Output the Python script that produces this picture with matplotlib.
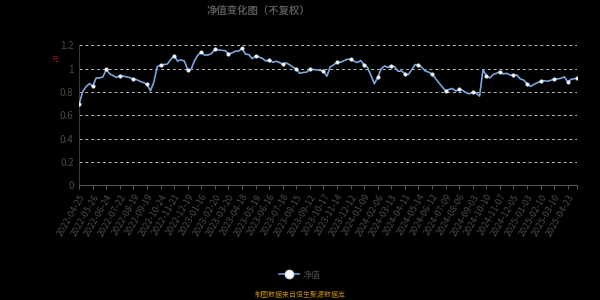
import numpy as np
import matplotlib
matplotlib.use('Agg')
from matplotlib import pyplot as plt
from matplotlib.lines import Line2D

plt.rcParams['font.family'] = ['Noto Sans CJK SC', 'DejaVu Sans']

# trading-day index of each sample (every 5 days, last point is the final day)
day_idx = list(range(0, 731, 5)) + [733]
nav = [
    0.70, 0.80, 0.845, 0.872, 0.85, 0.92, 0.92, 0.93, 0.994, 0.955,
    0.94, 0.925, 0.94, 0.935, 0.93, 0.922, 0.91, 0.905, 0.89, 0.88,
    0.866, 0.81, 0.885, 1.017, 1.03, 1.035, 1.04, 1.08, 1.11, 1.065,
    1.075, 1.065, 0.99, 0.994, 1.07, 1.117, 1.14, 1.115, 1.117, 1.13,
    1.166, 1.16, 1.157, 1.154, 1.126, 1.134, 1.15, 1.15, 1.175, 1.125,
    1.12, 1.085, 1.111, 1.10, 1.088, 1.065, 1.074, 1.055, 1.063, 1.053,
    1.037, 1.05, 1.033, 1.013, 0.997, 0.96, 0.967, 0.97, 0.994, 0.993,
    0.989, 0.985, 0.98, 0.935, 1.015, 1.033, 1.054, 1.055, 1.067, 1.08,
    1.08, 1.063, 1.053, 1.07, 1.031, 1.01, 0.94, 0.87, 0.926, 0.998,
    1.023, 1.01, 1.026, 1.015, 0.977, 0.98, 0.955, 0.95, 0.99, 1.035,
    1.031, 1.01, 0.98, 0.97, 0.954, 0.915, 0.88, 0.845, 0.809, 0.822,
    0.83, 0.808, 0.823, 0.813, 0.795, 0.784, 0.797, 0.79, 0.765, 0.99,
    0.94, 0.92, 0.95, 0.96, 0.975, 0.955, 0.96, 0.945, 0.943, 0.945,
    0.912, 0.902, 0.87, 0.848, 0.865, 0.879, 0.891, 0.897, 0.892, 0.90,
    0.911, 0.912, 0.917, 0.93, 0.885, 0.909, 0.914, 0.917,
]
tick_labels = [
    "2022-04-25", "2022-05-26", "2022-06-24", "2022-07-22", "2022-08-19",
    "2022-09-19", "2022-10-24", "2022-11-21", "2022-12-19", "2023-01-16",
    "2023-02-20", "2023-03-20", "2023-04-18", "2023-05-19", "2023-06-16",
    "2023-07-18", "2023-08-15", "2023-09-12", "2023-10-17", "2023-11-14",
    "2023-12-12", "2024-01-09", "2024-02-06", "2024-03-13", "2024-04-11",
    "2024-05-14", "2024-06-12", "2024-07-09", "2024-08-06", "2024-09-03",
    "2024-10-10", "2024-11-07", "2024-12-05", "2025-01-03", "2025-02-10",
    "2025-03-10", "2025-04-23",
]
y_ticks = [0, 0.2, 0.4, 0.6, 0.8, 1, 1.2]

line_color = "#7aa6dc"
text_color = "#4a4a4a"
axis_color = "#3a3a3a"

fig = plt.figure(figsize=(6, 3), dpi=100, facecolor="black")
ax = fig.add_axes([0.132, 0.382, 0.829, 0.467], facecolor="black")

x = np.array(day_idx)
y = np.array(nav)
ax.plot(x, y, color=line_color, lw=1.2, zorder=3)
mark = [i for i, d in enumerate(day_idx) if d % 20 == 0 and d <= 720] + [len(day_idx) - 1]
ax.plot(x[mark], y[mark], ls="none", marker="o", ms=2.4, mfc="white",
        mec="#dfe9f7", mew=0.5, zorder=4)

ax.set_xlim(0, 733)
ax.set_ylim(0, 1.2)
ax.set_yticks(y_ticks)
ax.set_yticklabels([f"{v:g}" for v in y_ticks])
ax.set_xticks(list(range(0, 721, 20)) + [733])
ax.set_xticklabels(tick_labels + [""], rotation=60, ha="right",
                   rotation_mode="anchor", fontsize=6.5, color=text_color)
for v in y_ticks[1:]:
    ax.axhline(v, color="#bdbdbd", lw=0.7, ls=(0, (3, 3)), zorder=1)

for s in ["top", "right"]:
    ax.spines[s].set_visible(False)
ax.spines["left"].set_color(axis_color)
ax.spines["bottom"].set_color("#555555")
ax.tick_params(axis="y", length=0, labelsize=7, labelcolor=text_color, pad=4)
ax.tick_params(axis="x", length=3, color="#555555", pad=2)

fig.text(0.43, 0.965, "净值变化图（不复权）", ha="center", va="center",
         fontsize=7.5, fontweight="bold", color="#555555")
fig.text(0.092, 0.80, "元", ha="center", va="center", fontsize=5, color="#a01010")

h = Line2D([], [], color=line_color, lw=1.1, marker="o", ms=6,
           mfc="white", mec="#cfe0f7", mew=1)
fig.legend([h], ["净值"], loc="center", bbox_to_anchor=(0.5, 0.083),
           frameon=False, fontsize=6.5, labelcolor=text_color,
           handlelength=2.2, handletextpad=0.4)
fig.text(0.5, 0.017, "制图数据来自恒生聚源数据库", ha="center", va="center",
         fontsize=5, color="#b8860b")

fig.savefig("out.png", dpi=100, facecolor="black")
